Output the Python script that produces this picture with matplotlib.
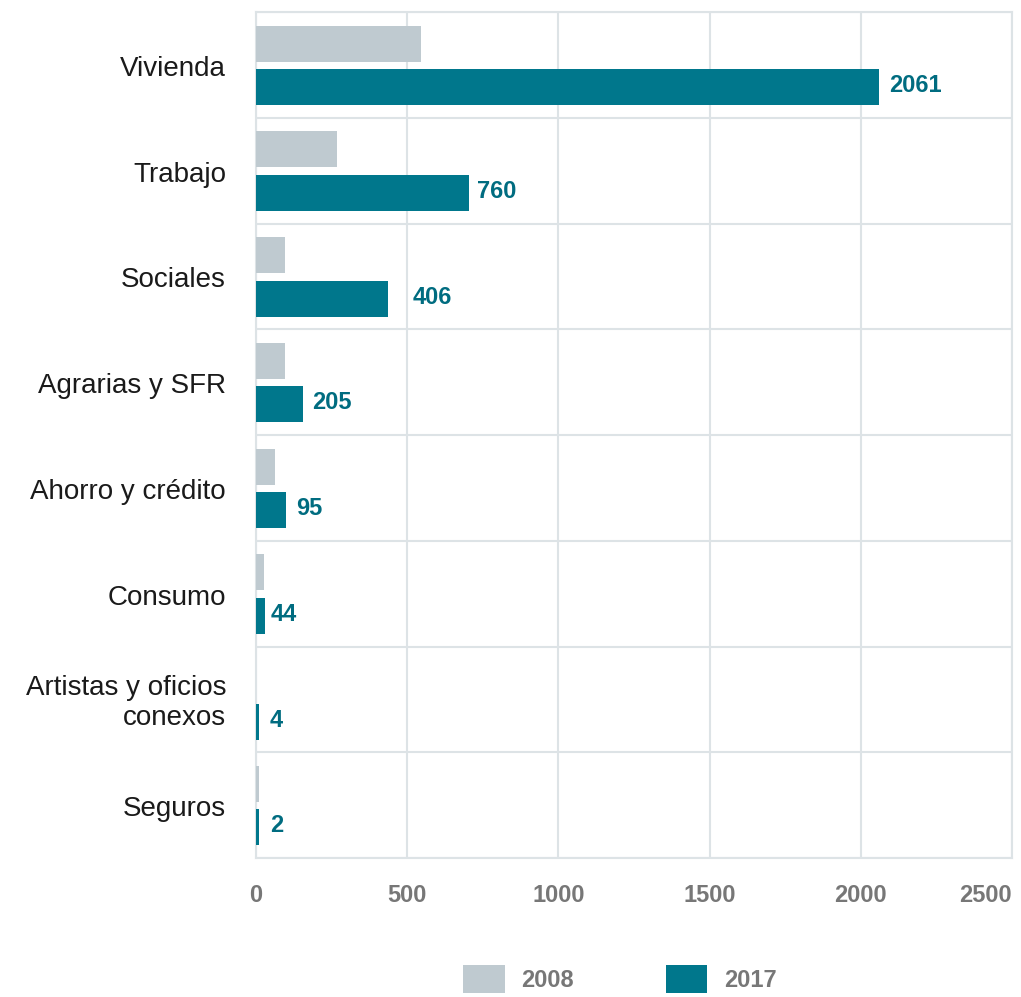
import matplotlib
matplotlib.use("Agg")
import matplotlib.pyplot as plt
from matplotlib.patches import Patch
from matplotlib.transforms import offset_copy, blended_transform_factory
import numpy as np

categories = ["Vivienda", "Trabajo", "Sociales", "Agrarias y SFR",
              "Ahorro y crédito", "Consumo", "Artistas y oficios\nconexos", "Seguros"]
values_2008 = [546, 268, 96, 96, 63, 26, 0, 10]
values_2017 = [2060, 704, 437, 155, 99, 30, 10, 10]
labels_2017 = ["2061", "760", "406", "205", "95", "44", "4", "2"]
series_names = ["2008", "2017"]
xticks = [0, 500, 1000, 1500, 2000, 2500]

# style
c2008 = "#BFCAD0"
c2017 = "#00778C"
label_color = "#006C80"
grid_color = "#DDE3E6"
tick_color = "#777777"
label_pad_px = [10, 8, 24, 9, 10, 6, 11, 11]

plt.rcParams['font.family'] = ['Liberation Sans', 'DejaVu Sans']

fig = plt.figure(figsize=(10.21, 9.97), dpi=100)
ax = fig.add_axes([256/1021, 1 - 858/997, (1012-256)/1021, (858-12)/997])

y = np.arange(len(categories))
h = 0.34
ax.barh(y - 0.2, values_2008, height=h, color=c2008, zorder=3)
ax.barh(y + 0.21, values_2017, height=h, color=c2017, zorder=3)

ax.set_xlim(0, 2500)
ax.set_ylim(len(categories) - 0.5, -0.5)

ax.set_xticks(xticks)
ax.set_xticklabels([str(t) for t in xticks])
for lbl in ax.get_xticklabels():
    lbl.set_fontsize(17)
    lbl.set_fontweight('bold')
    lbl.set_color(tick_color)
ax.get_xticklabels()[-1].set_horizontalalignment('right')
ax.tick_params(axis='x', length=0, pad=19)

# category labels
ax.set_yticks(y)
ax.set_yticklabels([])
ax.tick_params(axis='y', length=0)
trans_lbl = offset_copy(blended_transform_factory(ax.transAxes, ax.transData),
                        fig=fig, x=-30 * 72 / 100, y=-4 * 72 / 100, units='points')
for i, c in enumerate(categories):
    ax.text(0, i, c, transform=trans_lbl, ha='right', va='center',
            fontsize=20, color="#1a1a1a", linespacing=1.2, multialignment='right')

ax.set_yticks(np.arange(len(categories) + 1) - 0.5, minor=True)
ax.tick_params(axis='y', which='minor', length=0)

ax.grid(axis='x', which='major', color=grid_color, linewidth=1.5, zorder=0)
ax.grid(axis='y', which='minor', color=grid_color, linewidth=1.5, zorder=0)
ax.grid(axis='y', which='major', visible=False)
for s in ax.spines.values():
    s.set_color(grid_color)
    s.set_linewidth(1.5)

for i, (v, t) in enumerate(zip(values_2017, labels_2017)):
    tr = offset_copy(ax.transData, fig=fig, x=label_pad_px[i] * 72 / 100, y=1, units='points')
    ax.text(v, i + 0.21, t, transform=tr, ha='left', va='center',
            fontsize=17, fontweight='bold', color=label_color, zorder=4)

handles = [Patch(facecolor=c2008, edgecolor='none'), Patch(facecolor=c2017, edgecolor='none')]
leg = fig.legend(handles, series_names, loc='center', bbox_to_anchor=(0.607, 0.018),
                 ncol=2, frameon=False, handlelength=1.75, handleheight=1.45,
                 handletextpad=0.7, columnspacing=3.9,
                 prop={'size': 17, 'weight': 'bold'})
for txt in leg.get_texts():
    txt.set_color(tick_color)

fig.savefig("out.png", dpi=100)
